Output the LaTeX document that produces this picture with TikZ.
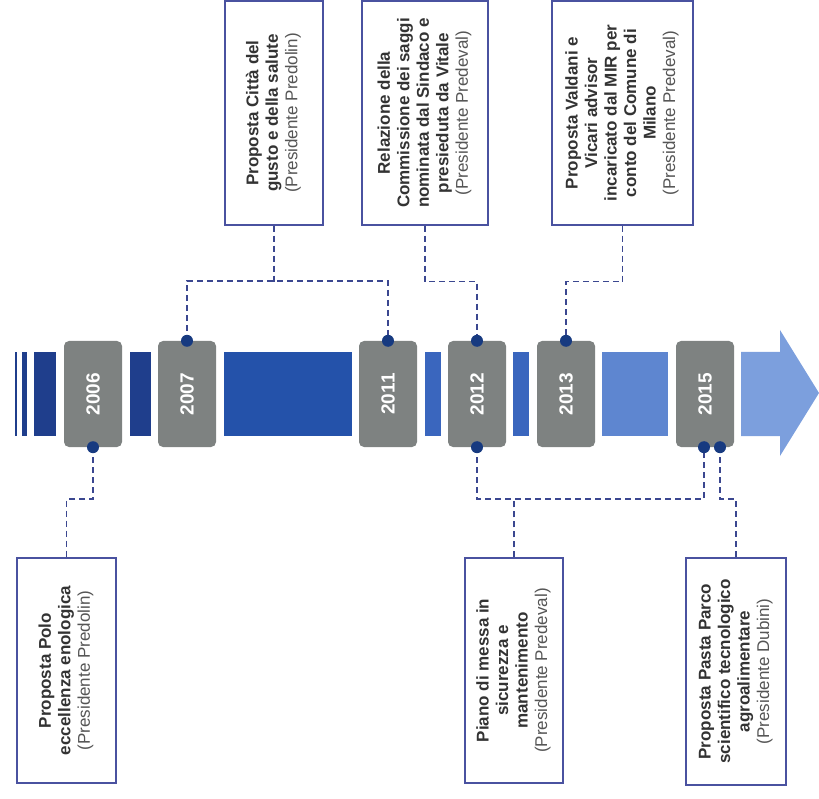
\documentclass[tikz,border=0pt]{standalone}
\usepackage{fontspec}
\setmainfont{Liberation Sans}
\definecolor{navy}{HTML}{1F3E8C}
\definecolor{midblue}{HTML}{2452AA}
\definecolor{softblue}{HTML}{3A66BE}
\definecolor{lightblue}{HTML}{5E86D0}
\definecolor{paleblue}{HTML}{7C9FDD}
\definecolor{yeargray}{HTML}{7E8281}
\definecolor{boxline}{HTML}{4A52A0}
\definecolor{linkc}{HTML}{3B4790}
\definecolor{dotc}{HTML}{173A80}
\definecolor{textgray}{HTML}{333333}
\definecolor{presgray}{HTML}{555555}
\newcommand{\vtext}[1]{\rotatebox{90}{\begin{tabular}{@{}c@{}}#1\end{tabular}}}
\newcommand{\pres}[1]{{\mdseries\color{presgray}(Presidente #1)}}
\begin{document}
\begin{tikzpicture}[x=1pt,y=-1pt,
    year/.style={fill=yeargray, rounded corners=5pt, minimum width=58pt, minimum height=106pt, inner sep=0pt, text=white, font=\fontsize{19}{19}\selectfont\bfseries},
    note/.style={draw=boxline, line width=1.3pt, fill=white, inner sep=0pt, text=textgray, font=\fontsize{17}{19.5}\selectfont\bfseries},
    link/.style={draw=linkc, dash pattern=on 6pt off 4pt, line width=1.6pt}]
    \useasboundingbox (0,0) rectangle (819,799);
    % the time bar
    \fill[navy] (15,352) rectangle (17,436);
    \fill[navy] (22,352) rectangle (27,436);
    \fill[navy] (34,352) rectangle (56,436);
    \fill[navy] (130,352) rectangle (151,436);
    \fill[midblue] (224,352) rectangle (352,436);
    \fill[softblue] (425,352) rectangle (441,436);
    \fill[softblue] (513,352) rectangle (529,436);
    \fill[lightblue] (602,352) rectangle (668,436);
    \fill[paleblue] (741,352) -- (780,352) -- (780,330) -- (819,393)
        -- (780,456) -- (780,436) -- (741,436) -- cycle;
    % the years
    \node[year] (y2006) at (93,394) {\rotatebox{90}{2006}};
    \node[year] (y2007) at (187,394) {\rotatebox{90}{2007}};
    \node[year] (y2011) at (388,394) {\rotatebox{90}{2011}};
    \node[year] (y2012) at (477,394) {\rotatebox{90}{2012}};
    \node[year] (y2013) at (566,394) {\rotatebox{90}{2013}};
    \node[year] (y2015) at (705,394) {\rotatebox{90}{2015}};
    % the notes above
    \node[note, minimum width=98pt, minimum height=224pt] (citta) at (274,113)
        {\vtext{Proposta Città del\\gusto e della salute\\\pres{Predolin}}};
    \node[note, minimum width=126pt, minimum height=224pt] (relaz) at (425,113)
        {\vtext{Relazione della\\Commissione dei saggi\\nominata dal Sindaco e\\presieduta da Vitale\\\pres{Predeval}}};
    \node[note, minimum width=141pt, minimum height=224pt] (valdani) at (622.5,113)
        {\vtext{Proposta Valdani e\\Vicari advisor\\incaricato dal MIR per\\conto del Comune di\\Milano\\\pres{Predeval}}};
    % the notes below
    \node[note, minimum width=99pt, minimum height=225pt] (polo) at (66.5,670.5)
        {\vtext{Proposta Polo\\eccellenza enologica\\\pres{Predolin}}};
    \node[note, minimum width=98pt, minimum height=225pt] (piano) at (514,670.5)
        {\vtext{Piano di messa in\\sicurezza e\\mantenimento\\\pres{Predeval}}};
    \node[note, minimum width=100pt, minimum height=227pt] (pasta) at (736,671.5)
        {\vtext{Proposta Pasta Parco\\scientifico tecnologico\\agroalimentare\\\pres{Dubini}}};
    % dashed links
    \draw[link] (y2007.north) -- ++(0,-60) -| (y2011.north);
    \draw[link] (citta.south) -- ++(0,56);
    \draw[link] (relaz.south) -- ++(0,56) -| (y2012.north);
    \draw[link] (valdani.south) -- ++(0,56) -| (y2013.north);
    \draw[link] (y2006.south) -- ++(0,52) -| (polo.north);
    \draw[link] (y2012.south) -- ++(0,52) -| ([xshift=-1pt]y2015.south);
    \draw[link] (piano.north) -- ++(0,-59);
    \draw[link] ([xshift=15pt]y2015.south) -- ++(0,52) -| (pasta.north);
    % the dots
    \foreach \p in {y2007.north, y2011.north, y2012.north, y2013.north, y2006.south, y2012.south}
        \fill[dotc] (\p) circle (6pt);
    \fill[dotc] ([xshift=-1pt]y2015.south) circle (6pt);
    \fill[dotc] ([xshift=15pt]y2015.south) circle (6pt);
\end{tikzpicture}
\end{document}
